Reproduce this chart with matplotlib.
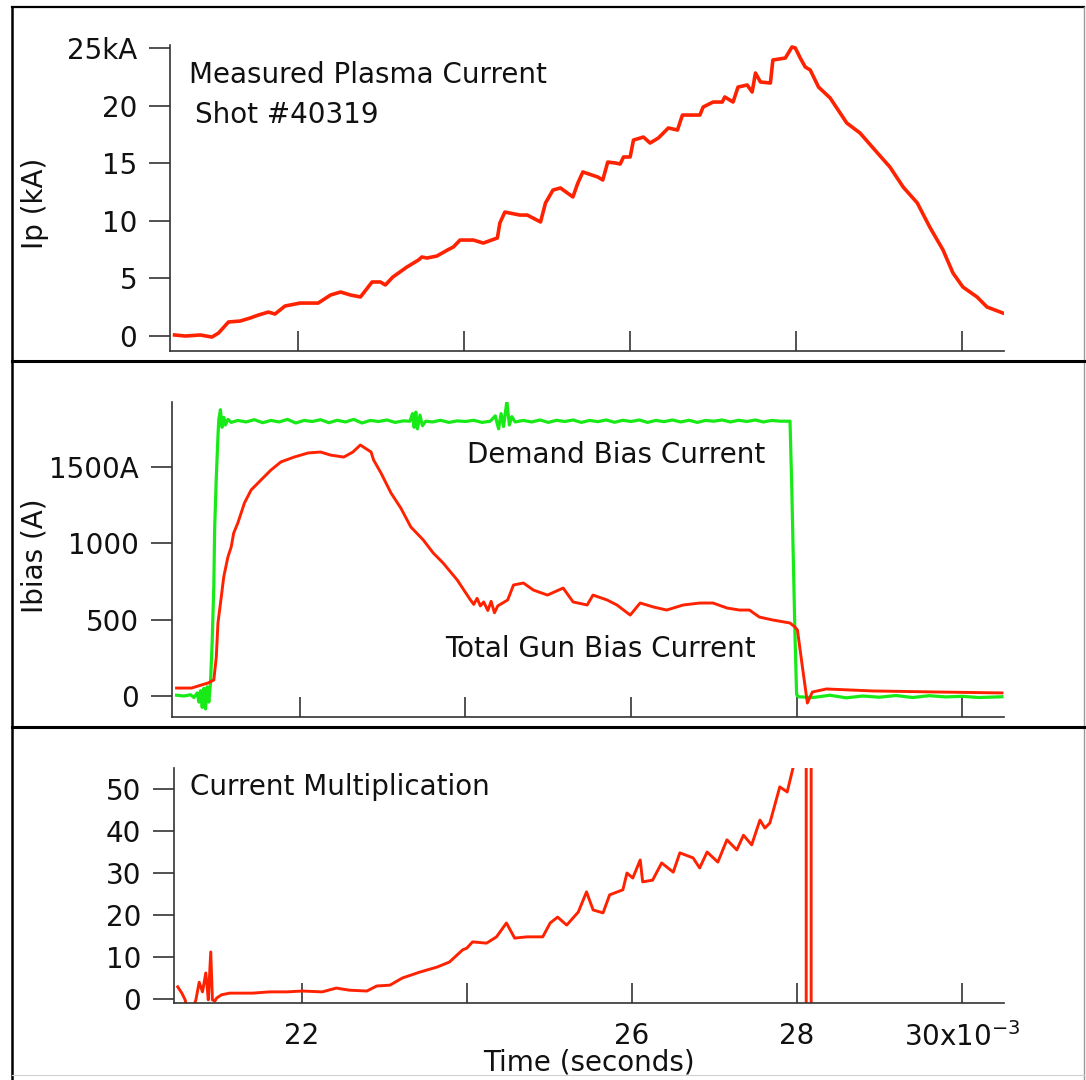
import numpy as np
import matplotlib
matplotlib.use("Agg")
import matplotlib.pyplot as plt
from matplotlib.lines import Line2D

plt.rcParams['font.family'] = ['DejaVu Sans']

# ---------------- data (time in ms, i.e. x10^-3 s) ----------------
ip_time = [20.51, 20.64, 20.82, 20.96, 21.04, 21.16, 21.30, 21.42, 21.52, 21.64, 21.72, 21.84,
           22.02, 22.24, 22.39, 22.51, 22.63, 22.75, 22.89, 22.99, 23.05, 23.14, 23.31, 23.45,
           23.49, 23.55, 23.67, 23.80, 23.87, 23.95, 24.11, 24.23, 24.40, 24.43, 24.49, 24.67,
           24.76, 24.92, 24.98, 25.07, 25.16, 25.31, 25.37, 25.43, 25.61, 25.67, 25.73, 25.82,
           25.88, 25.92, 26.00, 26.04, 26.16, 26.24, 26.34, 26.40, 26.46, 26.57, 26.63, 26.84,
           26.88, 27.00, 27.11, 27.14, 27.24, 27.30, 27.41, 27.47, 27.51, 27.57, 27.69, 27.72,
           27.87, 27.95, 27.99, 28.05, 28.11, 28.17, 28.27, 28.41, 28.61, 28.77, 28.98, 29.13,
           29.29, 29.46, 29.61, 29.77, 29.89, 30.01, 30.18, 30.30, 30.49]
ip_kA = [0.09, 0.0, 0.09, -0.09, 0.26, 1.22, 1.30, 1.56, 1.82, 2.08, 1.91, 2.60,
         2.86, 2.86, 3.56, 3.82, 3.56, 3.39, 4.69, 4.69, 4.43, 5.12, 5.99, 6.60,
         6.86, 6.77, 6.94, 7.47, 7.73, 8.33, 8.33, 8.07, 8.51, 9.81, 10.76, 10.50,
         10.50, 9.90, 11.55, 12.67, 12.85, 12.07, 13.28, 14.24, 13.80, 13.54, 15.10, 15.02,
         14.93, 15.54, 15.54, 17.01, 17.27, 16.75, 17.19, 17.62, 18.06, 17.88, 19.18, 19.18,
         19.88, 20.31, 20.31, 20.75, 20.31, 21.61, 21.79, 21.18, 22.83, 22.05, 21.96, 23.96,
         24.13, 25.09, 25.00, 24.13, 23.35, 23.09, 21.61, 20.66, 18.49, 17.62, 15.89, 14.67,
         12.93, 11.55, 9.46, 7.47, 5.47, 4.25, 3.39, 2.52, 2.00]

bias_time = [20.51, 20.69, 20.81, 20.89, 20.96, 20.99, 21.01, 21.05, 21.08, 21.13, 21.17, 21.20,
             21.25, 21.33, 21.41, 21.53, 21.65, 21.77, 21.93, 22.10, 22.25, 22.37, 22.53, 22.64,
             22.73, 22.86, 22.89, 22.98, 23.10, 23.22, 23.34, 23.49, 23.61, 23.73, 23.90, 24.06,
             24.10, 24.14, 24.18, 24.22, 24.27, 24.31, 24.35, 24.39, 24.51, 24.58, 24.70, 24.82,
             24.99, 25.18, 25.30, 25.47, 25.54, 25.71, 25.83, 25.99, 26.11, 26.27, 26.43, 26.63,
             26.83, 26.99, 27.16, 27.31, 27.43, 27.55, 27.71, 27.92, 27.98, 28.01, 28.07, 28.13,
             28.19, 28.36, 28.92, 29.72, 30.48]
bias_total_A = [52, 52, 72, 85, 105, 255, 478, 648, 780, 910, 976, 1067,
                1133, 1264, 1349, 1415, 1480, 1533, 1565, 1592, 1598, 1578, 1565, 1598,
                1644, 1598, 1546, 1460, 1330, 1230, 1107, 1022, 937, 871, 760, 629,
                600, 640, 590, 616, 560, 620, 545, 590, 629, 727, 740, 694,
                661, 707, 616, 596, 661, 629, 596, 530, 609, 583, 563, 596,
                609, 609, 576, 563, 563, 517, 498, 478, 452, 432, 190, -46,
                26, 46, 33, 26, 20]

demand_time = [20.51, 20.60, 20.68, 20.72, 20.76, 20.78, 20.80, 20.82, 20.84, 20.86, 20.88, 20.90,
               20.92, 20.94, 20.96, 20.97, 20.99, 21.01, 21.02, 21.04, 21.06, 21.08, 21.10, 21.13,
               21.17, 21.25, 21.35, 21.45, 21.55, 21.65, 21.75, 21.85, 21.95, 22.05, 22.15, 22.25,
               22.35, 22.45, 22.55, 22.65, 22.75, 22.85, 22.95, 23.05, 23.15, 23.25, 23.33, 23.36,
               23.38, 23.40, 23.42, 23.45, 23.48, 23.52, 23.60, 23.70, 23.80, 23.90, 24.00, 24.10,
               24.20, 24.30, 24.36, 24.40, 24.43, 24.46, 24.50, 24.53, 24.56, 24.60, 24.70, 24.80,
               24.90, 25.00, 25.10, 25.20, 25.30, 25.40, 25.50, 25.60, 25.70, 25.80, 25.90, 26.00,
               26.10, 26.20, 26.30, 26.40, 26.50, 26.60, 26.70, 26.80, 26.90, 27.00, 27.10, 27.20,
               27.30, 27.40, 27.50, 27.60, 27.70, 27.80, 27.88, 27.92, 27.94, 27.96, 27.98, 28.00,
               28.02, 28.20, 28.40, 28.60, 28.80, 29.00, 29.20, 29.40, 29.60, 29.80, 30.00, 30.20,
               30.48]
demand_A = [5, 0, 8, -10, 20, -40, 35, -75, 50, -85, 60, -40,
            85, 350, 720, 1090, 1430, 1700, 1810, 1875, 1760, 1825, 1775, 1812,
            1792, 1805, 1795, 1810, 1790, 1805, 1795, 1812, 1788, 1805, 1798, 1810,
            1790, 1806, 1795, 1812, 1788, 1805, 1798, 1808, 1792, 1802, 1800, 1850,
            1760, 1860, 1750, 1840, 1770, 1800, 1795, 1806, 1792, 1802, 1798, 1806,
            1792, 1800, 1835, 1750, 1850, 1765, 1930, 1775, 1830, 1795, 1805, 1795,
            1808, 1792, 1806, 1798, 1808, 1792, 1805, 1797, 1808, 1793, 1806, 1798,
            1808, 1792, 1805, 1797, 1808, 1795, 1806, 1792, 1805, 1800, 1808, 1795,
            1806, 1798, 1808, 1795, 1805, 1800, 1800, 1800, 1400, 900, 400, 10,
            -5, -10, 5, -12, 0, -8, 3, -10, 2, -6, -2, -10,
            -5]

mult_time = [20.50, 20.55, 20.59, 20.64, 20.72, 20.76, 20.80, 20.84, 20.86, 20.87, 20.90, 20.92,
             20.95, 20.97, 21.03, 21.13, 21.41, 21.61, 21.82, 22.01, 22.25, 22.42, 22.58, 22.79,
             22.91, 23.07, 23.22, 23.43, 23.64, 23.79, 23.95, 24.00, 24.07, 24.24, 24.36, 24.48,
             24.58, 24.73, 24.92, 25.01, 25.10, 25.21, 25.35, 25.45, 25.53, 25.65, 25.73, 25.89,
             25.94, 26.01, 26.10, 26.13, 26.25, 26.36, 26.50, 26.58, 26.74, 26.82, 26.91, 27.04,
             27.15, 27.27, 27.35, 27.45, 27.55, 27.61, 27.67, 27.79, 27.88, 27.95, 28.01, 28.11,
             28.11, 28.17, 28.17, 28.20]
mult_ratio = [2.9, 1.4, -0.2, -5.0, -0.2, 4.0, 1.7, 6.2, 2.1, -0.2, 11.2, -0.2,
              -0.5, 0.2, 1.0, 1.4, 1.4, 1.7, 1.7, 1.9, 1.7, 2.6, 2.1, 1.9,
              3.1, 3.3, 5.0, 6.4, 7.6, 8.8, 11.7, 12.1, 13.6, 13.3, 14.8, 18.1,
              14.5, 14.8, 14.8, 18.1, 19.5, 17.6, 20.7, 25.5, 21.2, 20.5, 24.8, 26.0,
              30.0, 28.8, 33.1, 27.9, 28.3, 32.4, 30.2, 34.8, 33.6, 31.2, 35.0, 32.6,
              37.9, 35.5, 39.0, 36.7, 42.6, 40.7, 41.9, 50.5, 49.3, 55.0, 58.0, 300,
              -300, -300, 300, 400]

x_ticks = [22, 24, 26, 28, 30]
x_tick_labels = ['22', '', '26', '28', r'30x10$^{\mathregular{-3}}$']
ip_ticks = [0, 5, 10, 15, 20, 25]
ip_tick_labels = ['0', '5', '10', '15', '20', '25kA']
bias_ticks = [0, 500, 1000, 1500]
bias_tick_labels = ['0', '500', '1000', '1500A']
mult_ticks = [0, 10, 20, 30, 40, 50]
mult_tick_labels = ['0', '10', '20', '30', '40', '50']

# ---------------- layout ----------------
W, H = 1086, 1080
fig = plt.figure(figsize=(W / 100, H / 100), dpi=100)
fig.patch.set_facecolor('white')

def px_rect(left, top, right, bottom):
    return [left / W, 1 - bottom / H, (right - left) / W, (bottom - top) / H]

RED = '#ff2200'
GREEN = '#18ea18'
AX = '#333333'
FS = 20
XLIM = (20.455, 30.505)

def style(ax, show_xlabels=False):
    for s in ('top', 'right'):
        ax.spines[s].set_visible(False)
    for s in ('left', 'bottom'):
        ax.spines[s].set_color(AX)
        ax.spines[s].set_linewidth(1.2)
    ax.set_xlim(*XLIM)
    ax.set_xticks(x_ticks)
    ax.tick_params(axis='x', direction='in', length=14.4, width=1.2, color=AX,
                   pad=13.5, labelsize=FS, labelcolor='#111111', labelbottom=show_xlabels)
    ax.tick_params(axis='y', direction='out', length=15, width=1.2, color=AX,
                   pad=8.6, labelsize=FS, labelcolor='#111111')
    ax.set_facecolor('none')

ax1 = fig.add_axes(px_rect(170, 45, 1004, 351))
ax2 = fig.add_axes(px_rect(172, 402, 1004, 717))
ax3 = fig.add_axes(px_rect(174, 768, 1004, 1003))

# top panel
style(ax1)
ax1.plot(ip_time, ip_kA, color=RED, lw=2.6, solid_joinstyle='round')
ax1.set_ylim(-1.30, 25.26)
ax1.set_yticks(ip_ticks)
ax1.set_yticklabels(ip_tick_labels)

# middle panel
style(ax2)
ax2.plot(demand_time, demand_A, color=GREEN, lw=2.3, solid_joinstyle='round')
ax2.plot(bias_time, bias_total_A, color=RED, lw=2.1, solid_joinstyle='round')
ax2.set_ylim(-137.6, 1925.7)
ax2.set_yticks(bias_ticks)
ax2.set_yticklabels(bias_tick_labels)

# bottom panel
style(ax3, show_xlabels=True)
ax3.plot(mult_time, mult_ratio, color=RED, lw=2.1, solid_joinstyle='round')
ax3.set_ylim(-0.95, 55.0)
ax3.set_yticks(mult_ticks)
ax3.set_yticklabels(mult_tick_labels)
ax3.set_xticklabels(x_tick_labels)

# texts
def ftext(x, y, s, **kw):
    fig.text(x / W, 1 - y / H, s, fontsize=FS, color='#111111', **kw)

ftext(189, 83, 'Measured Plasma Current', ha='left', va='baseline')
ftext(195, 123, 'Shot #40319', ha='left', va='baseline')
ftext(467, 463, 'Demand Bias Current', ha='left', va='baseline')
ftext(445, 657, 'Total Gun Bias Current', ha='left', va='baseline')
ftext(190, 795, 'Current Multiplication', ha='left', va='baseline')
ftext(589, 1071, 'Time (seconds)', ha='center', va='baseline')
ftext(35, 203, 'Ip (kA)', ha='center', va='center', rotation=90)
ftext(35, 556, 'Ibias (A)', ha='center', va='center', rotation=90)

# frame / separators
def fline(x0, y0, x1, y1, color='black', lw=1.5):
    fig.add_artist(Line2D([x0 / W, x1 / W], [1 - y0 / H, 1 - y1 / H],
                          transform=fig.transFigure, color=color, lw=lw))

fline(12, 7, 1084, 7, lw=1.6)
fline(12, 7, 12, 1080, lw=1.8)
fline(1084, 7, 1084, 1080, color='#9a9a9a', lw=1.0)
fline(12, 361, 1084, 361, lw=2.2)
fline(12, 727, 1084, 727, lw=2.2)
fline(12, 1075, 1084, 1075, color='#d0d0d0', lw=0.8)

fig.savefig('out.png', dpi=100, facecolor='white')
